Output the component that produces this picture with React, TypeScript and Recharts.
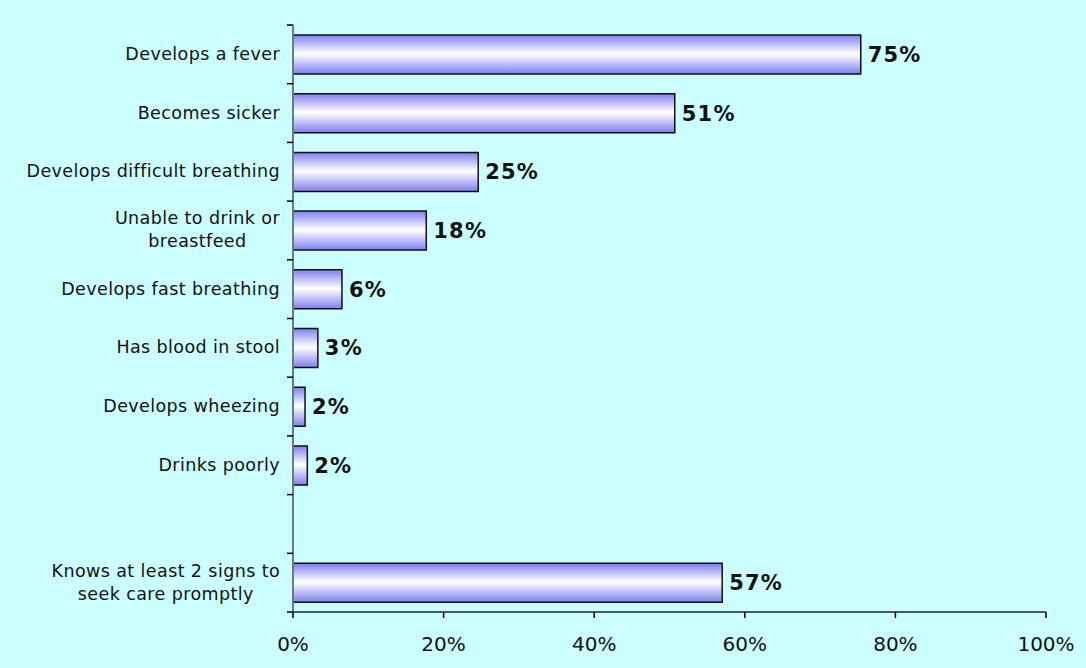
import { BarChart, Bar, XAxis, YAxis, LabelList } from "recharts";

const categories = [
  "Develops a fever",
  "Becomes sicker",
  "Develops difficult breathing",
  "Unable to drink or|breastfeed",
  "Develops fast breathing",
  "Has blood in stool",
  "Develops wheezing",
  "Drinks poorly",
  "",
  "Knows at least 2 signs to|seek care promptly",
];
const values: (number | null)[] = [75.4, 50.7, 24.6, 17.7, 6.5, 3.3, 1.6, 1.9, null, 57.0];
const valueLabels = ["75%", "51%", "25%", "18%", "6%", "3%", "2%", "2%", "", "57%"];
const xTicks = [0, 20, 40, 60, 80, 100];

const data = categories.map((name, i) => ({
  name,
  pct: values[i],
  label: valueLabels[i],
}));

const FONT = "'DejaVu Sans', Verdana, sans-serif";
const BAND = (612 - 25) / categories.length;

function CategoryTick(props: any) {
  const { x, y, payload, index } = props;
  const lines = String(payload.value).split("|").filter((s) => s.length);
  const isLast = index === categories.length - 1;
  return (
    <g>
      <line x1={x + 2} x2={x + 8} y1={y - BAND / 2} y2={y - BAND / 2} stroke="#000" strokeWidth={1.5} />
      {isLast && (
        <line x1={x + 2} x2={x + 8} y1={y + BAND / 2} y2={y + BAND / 2} stroke="#000" strokeWidth={1.5} />
      )}
      {lines.length > 0 && (
        <foreignObject x={0} y={y - 30} width={x - 5} height={60}>
          <div
            style={{
              width: "100%",
              height: "100%",
              display: "flex",
              alignItems: "center",
              justifyContent: "flex-end",
              fontFamily: FONT,
              fontSize: 17.5,
              letterSpacing: 0.4,
              lineHeight: "23px",
              color: "#111",
            }}
          >
            <div style={{ textAlign: "center", whiteSpace: "nowrap" }}>
              {lines.map((l, i) => (
                <div key={i}>{l}</div>
              ))}
            </div>
          </div>
        </foreignObject>
      )}
    </g>
  );
}

export default function App() {
  return (
    <div style={{ position: "absolute", left: 0, top: 0, width: 1086, height: 668, background: "#ccffff" }}>
      <BarChart
        width={1086}
        height={668}
        data={data}
        layout="vertical"
        margin={{ top: 25, right: 40, left: 0, bottom: 0 }}
      >
        <defs>
          <linearGradient id="barGrad" x1="0" y1="0" x2="0" y2="1">
            <stop offset="0%" stopColor="#7f7ff0" />
            <stop offset="48%" stopColor="#ffffff" />
            <stop offset="100%" stopColor="#7f7ff0" />
          </linearGradient>
        </defs>
        <XAxis
          type="number"
          domain={[0, 100]}
          ticks={xTicks}
          tickFormatter={(v) => `${v}%`}
          height={56}
          tickSize={6}
          tickMargin={19}
          interval={0}
          axisLine={{ stroke: "#4a5a5a", strokeWidth: 2 }}
          tickLine={{ stroke: "#000", strokeWidth: 1.5 }}
          tick={{ fontSize: 20, fill: "#111", fontFamily: FONT }}
        />
        <YAxis
          type="category"
          dataKey="name"
          width={293}
          interval={0}
          tickLine={false}
          axisLine={{ stroke: "#6a7a7a", strokeWidth: 2 }}
          tick={<CategoryTick />}
        />
        <Bar dataKey="pct" barSize={39} fill="url(#barGrad)" stroke="#111" strokeWidth={1.5} isAnimationActive={false}>
          <LabelList
            dataKey="label"
            position="right"
            offset={7}
            style={{ fontFamily: FONT, fontSize: 21, fontWeight: "bold", letterSpacing: 1.2, fill: "#111" }}
          />
        </Bar>
      </BarChart>
    </div>
  );
}
